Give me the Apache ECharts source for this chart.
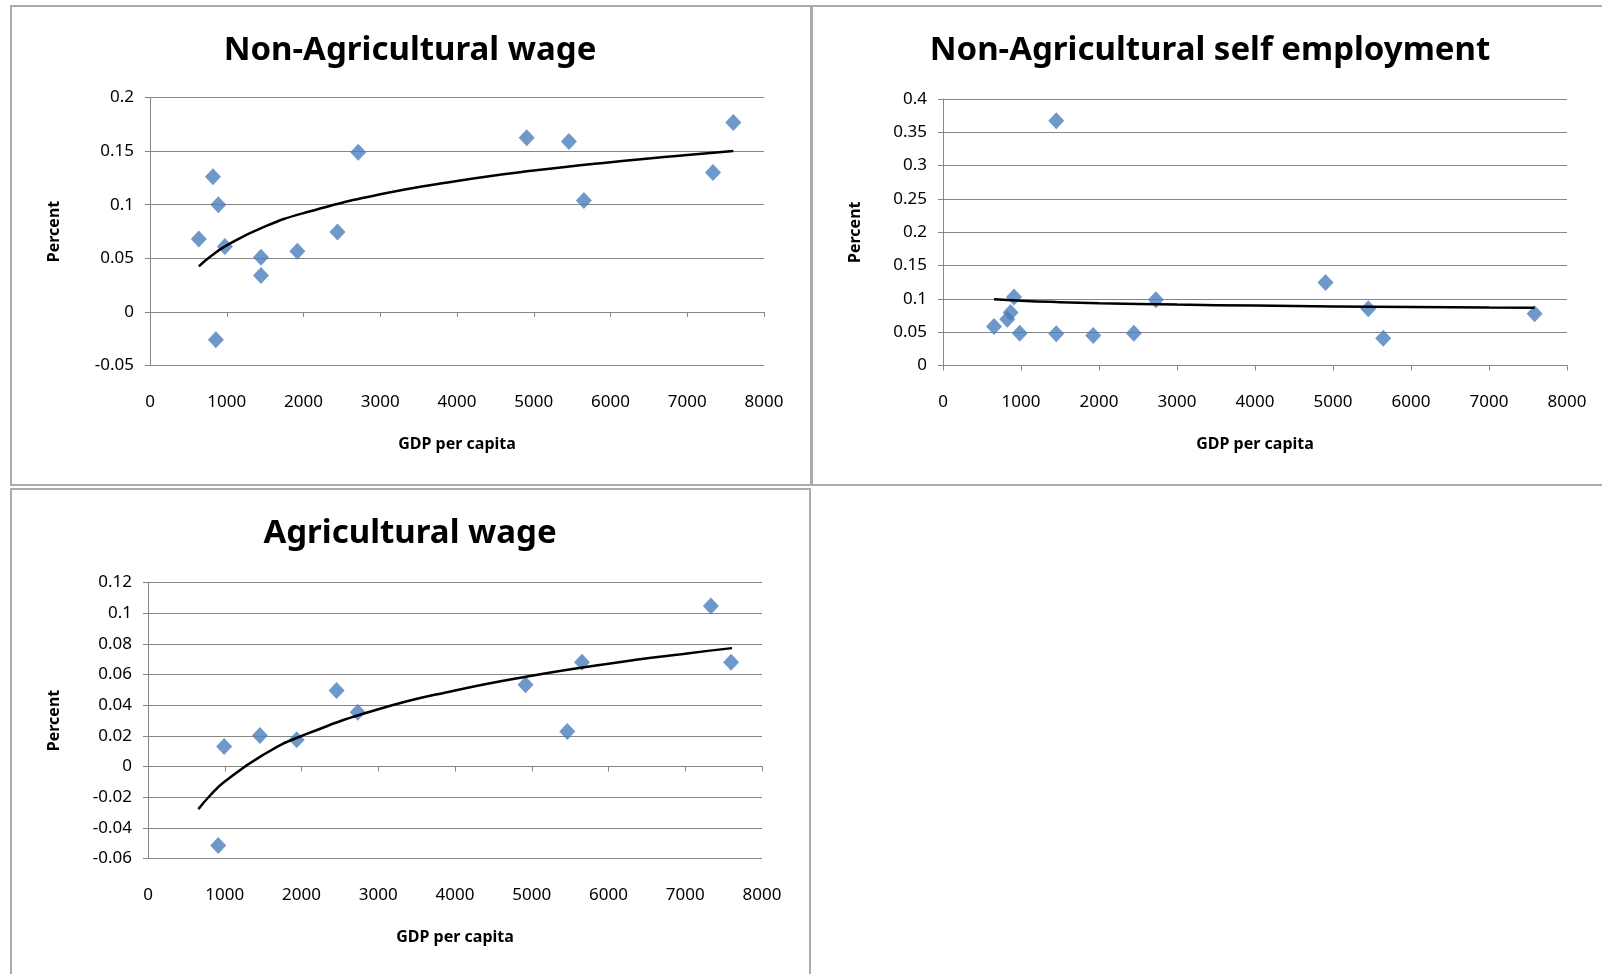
<!DOCTYPE html>
<html>
<head>
<meta charset="utf-8">
<script src="https://cdn.jsdelivr.net/npm/echarts@6/dist/echarts.min.js"></script>
<style>
html,body{margin:0;padding:0;background:#fff;}
#c{width:1602px;height:974px;}
</style>
</head>
<body>
<div id="c"></div>
<script>
// ---- Data ----
const titles = ['Non-Agricultural wage', 'Non-Agricultural self employment', 'Agricultural wage'];
const xTitle = 'GDP per capita';
const yTitle = 'Percent';

// Non-Agricultural wage
const nonAgWageGdp = [636, 820, 858, 890, 976, 1446, 1446, 1920, 2443, 2713, 4908, 5458, 5653, 7335, 7600];
const nonAgWageVal = [0.068, 0.126, -0.026, 0.100, 0.061, 0.051, 0.034, 0.0565, 0.0745, 0.149, 0.1625, 0.159, 0.104, 0.130, 0.1767];
const nonAgWageTrendGdp = [636, 800, 1000, 1500, 2000, 3000, 4000, 5000, 6000, 7000, 7600];
const nonAgWageTrendVal = [0.0425, 0.0524, 0.0621, 0.0797, 0.0921, 0.1097, 0.1221, 0.1318, 0.1397, 0.1464, 0.150];

// Non-Agricultural self employment
const selfEmpGdp = [654, 824, 867, 910, 984, 1452, 1452, 1926, 2447, 2729, 4904, 5452, 5644, 7585];
const selfEmpVal = [0.0585, 0.0695, 0.0795, 0.103, 0.0485, 0.3675, 0.0475, 0.045, 0.0485, 0.0985, 0.1245, 0.085, 0.041, 0.0775];
const selfEmpTrendGdp = [654, 1000, 1500, 2000, 3000, 4000, 5000, 6000, 7000, 7585];
const selfEmpTrendVal = [0.0995, 0.0972, 0.0951, 0.0936, 0.0914, 0.0899, 0.0887, 0.0878, 0.0869, 0.0865];

// Agricultural wage
const agWageGdp = [915, 992, 1458, 1937, 2457, 2732, 4919, 5463, 5655, 7334, 7597];
const agWageVal = [-0.0515, 0.013, 0.0202, 0.0174, 0.0496, 0.0354, 0.0533, 0.0228, 0.068, 0.1046, 0.068];
const agWageTrendGdp = [657, 800, 1000, 1500, 2000, 3000, 4000, 5000, 6000, 7000, 7609];
const agWageTrendVal = [-0.0278, -0.0194, -0.0098, 0.0076, 0.0199, 0.0373, 0.0496, 0.0592, 0.0670, 0.0736, 0.0772];

// Axis ranges
const xRange = {min: 0, max: 8000, interval: 1000};
const yRanges = [
  {min: -0.05, max: 0.2, interval: 0.05},
  {min: 0, max: 0.4, interval: 0.05},
  {min: -0.06, max: 0.12, interval: 0.02}
];

// ---- Styling / layout ----
const FONT = '"Noto Sans", "DejaVu Sans", sans-serif';
const GRID_COLOR = '#868686';
const MARK_COLOR = '#4a7ebb';
const grids = [
  {left: 150, top: 97.5, width: 614, height: 268},
  {left: 943, top: 99, width: 624, height: 266.5},
  {left: 148, top: 582.5, width: 614, height: 276}
];
const nameGapsY = [88, 80, 86];
const titlePos = [[410, 34], [1210, 34], [410, 517]];

const pairs = (xs, ys) => xs.map((x, i) => [x, ys[i]]);
const pointSets = [pairs(nonAgWageGdp, nonAgWageVal), pairs(selfEmpGdp, selfEmpVal), pairs(agWageGdp, agWageVal)];
const trendSets = [pairs(nonAgWageTrendGdp, nonAgWageTrendVal), pairs(selfEmpTrendGdp, selfEmpTrendVal), pairs(agWageTrendGdp, agWageTrendVal)];

const fmtNum = v => String(Math.round(v * 1000) / 1000);

const xAxes = [], yAxes = [], series = [], titleOpts = [];
grids.forEach((g, i) => {
  // label axis (bottom of plot)
  xAxes.push({
    type: 'value', gridIndex: i, position: 'bottom',
    min: xRange.min, max: xRange.max, interval: xRange.interval,
    axisLine: {show: false, onZero: false}, axisTick: {show: false}, splitLine: {show: false},
    axisLabel: {color: '#000', fontFamily: FONT, fontSize: 17, margin: 28, formatter: v => String(v)},
    name: xTitle, nameLocation: 'middle', nameGap: 71,
    nameTextStyle: {color: '#000', fontFamily: FONT, fontSize: 16, fontWeight: 'bold'}
  });
  // line axis crossing at y = 0
  xAxes.push({
    type: 'value', gridIndex: i, position: 'bottom',
    min: xRange.min, max: xRange.max, interval: xRange.interval,
    axisLine: {show: true, onZero: true, lineStyle: {color: GRID_COLOR, width: 1}},
    axisTick: {show: true, inside: false, length: 5, lineStyle: {color: GRID_COLOR}},
    axisLabel: {show: false}, splitLine: {show: false}
  });
  const yr = yRanges[i];
  yAxes.push({
    type: 'value', gridIndex: i, position: 'left',
    min: yr.min, max: yr.max, interval: yr.interval,
    axisLine: {show: true, onZero: false, lineStyle: {color: GRID_COLOR, width: 1}},
    axisTick: {show: true, inside: false, length: 5, lineStyle: {color: GRID_COLOR}},
    splitLine: {show: true, lineStyle: {color: GRID_COLOR, width: 1}},
    axisLabel: {color: '#000', fontFamily: FONT, fontSize: 17, margin: 16, formatter: fmtNum},
    name: yTitle, nameLocation: 'middle', nameGap: nameGapsY[i], nameRotate: 90,
    nameTextStyle: {color: '#000', fontFamily: FONT, fontSize: 16, fontWeight: 'bold'}
  });
  series.push({
    type: 'scatter', xAxisIndex: 2 * i, yAxisIndex: i,
    data: pointSets[i], symbol: 'diamond', symbolSize: [16, 17],
    itemStyle: {color: MARK_COLOR}, z: 3, silent: true
  });
  series.push({
    type: 'line', xAxisIndex: 2 * i, yAxisIndex: i,
    data: trendSets[i], smooth: true, showSymbol: false, symbol: 'none',
    lineStyle: {color: '#000', width: 2.5}, z: 4, silent: true
  });
  titleOpts.push({
    text: titles[i], left: titlePos[i][0], top: titlePos[i][1], textAlign: 'center', padding: 0,
    textStyle: {color: '#000', fontFamily: FONT, fontSize: 33, fontWeight: 'bold'}
  });
});

const borders = [
  [11, 6, 800, 479],
  [812, 6, 800, 479],
  [11, 489, 799, 500]
].map(r => ({
  type: 'rect', silent: true, z: 0,
  shape: {x: r[0], y: r[1], width: r[2], height: r[3]},
  style: {fill: null, stroke: '#ababab', lineWidth: 2}
}));

const chart = echarts.init(document.getElementById('c'), null, {renderer: 'canvas'});
chart.setOption({
  backgroundColor: '#fff',
  animation: false,
  title: titleOpts,
  grid: grids.map(g => Object.assign({containLabel: false, outerBoundsMode: 'none'}, g)),
  xAxis: xAxes,
  yAxis: yAxes,
  series: series,
  graphic: borders
});
</script>
</body>
</html>
